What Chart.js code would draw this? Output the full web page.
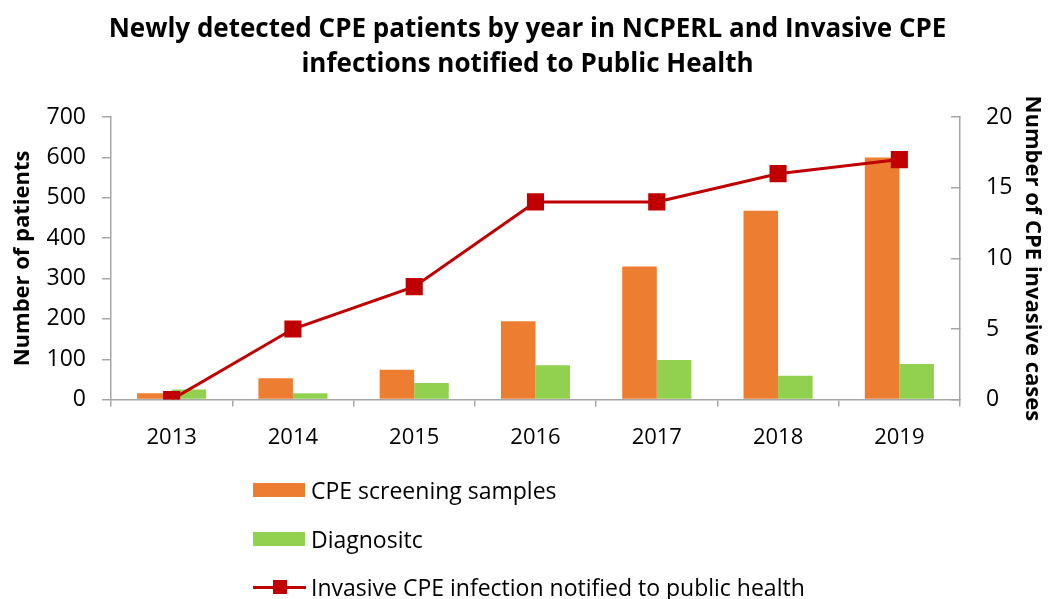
<!DOCTYPE html>
<html>
<head>
<meta charset="utf-8">
<script src="https://cdn.jsdelivr.net/npm/chart.js@4"></script>
<style>
  html, body { margin: 0; padding: 0; background: #fff; }
  #wrap { position: relative; width: 1050px; height: 599px; }
  #legend { position: absolute; left: 253px; top: 466px; font-family: "Open Sans", sans-serif; font-size: 23px; color: #000; }
  .item { display: flex; align-items: center; height: 48.5px; }
  .swatch { width: 52px; height: 14px; margin-right: 6px; }
  .lineSw { position: relative; width: 53px; height: 16px; margin-right: 5px; }
  .lineSw::before { content: ""; position: absolute; left: 0; right: 0; top: 6.5px; height: 3px; background: #c00000; }
  .lineSw::after { content: ""; position: absolute; left: 20px; top: 1px; width: 14px; height: 14px; background: #c00000; }
</style>
</head>
<body>
<div id="wrap">
  <canvas id="chart" width="1050" height="599"></canvas>
  <div id="legend"></div>
</div>
<script>
// Data
const years = ['2013', '2014', '2015', '2016', '2017', '2018', '2019'];
const screening = [16, 53, 74, 194, 330, 468, 600];
const diagnostic = [25, 16, 41, 85, 98, 59, 88];
const invasive = [0, 5, 8, 14, 14, 16, 17];

const ORANGE = '#ed7d31';
const GREEN = '#92d050';
const RED = '#c00000';
const AXIS = '#a6a6a6';
const FONT = '"Open Sans", sans-serif';

const ctx = document.getElementById('chart').getContext('2d');
const chart = new Chart(ctx, {
  type: 'bar',
  data: {
    labels: years,
    datasets: [
      {
        type: 'line',
        label: 'Invasive CPE infection notified to public health',
        data: invasive,
        yAxisID: 'y2',
        borderColor: RED,
        backgroundColor: RED,
        borderWidth: 3,
        pointStyle: 'rect',
        pointRadius: 10,
        pointHoverRadius: 10,
        tension: 0,
        order: 0
      },
      {
        label: 'CPE screening samples',
        data: screening,
        yAxisID: 'y',
        backgroundColor: ORANGE,
        barPercentage: 1,
        categoryPercentage: 0.57,
        order: 1
      },
      {
        label: 'Diagnositc',
        data: diagnostic,
        yAxisID: 'y',
        backgroundColor: GREEN,
        barPercentage: 1,
        categoryPercentage: 0.57,
        order: 1
      }
    ]
  },
  options: {
    responsive: false,
    animation: false,
    layout: { autoPadding: false, padding: { left: 10, right: 5, top: 0, bottom: 130 } },
    plugins: {
      legend: { display: false },
      tooltip: { enabled: false },
      title: {
        display: true,
        text: ['Newly detected CPE patients by year in NCPERL and Invasive CPE', 'infections notified to Public Health'],
        color: '#000',
        font: { family: FONT, size: 26, weight: 'bold', lineHeight: 1.35 },
        padding: { top: 12, bottom: 35 }
      }
    },
    scales: {
      x: {
        grid: { offset: true, drawOnChartArea: false, drawTicks: true, tickLength: 7, color: AXIS, lineWidth: 1.5 },
        border: { color: AXIS, width: 1.5 },
        ticks: { color: '#000', font: { family: FONT, size: 22 }, padding: 18 }
      },
      y: {
        position: 'left',
        min: 0,
        max: 700,
        afterFit: scale => { scale.width = 101; },
        ticks: { stepSize: 100, color: '#000', font: { family: FONT, size: 23 }, padding: 16 },
        grid: { drawOnChartArea: false, drawTicks: true, tickLength: 9, color: AXIS, lineWidth: 1.5 },
        border: { color: AXIS, width: 1.5 },
        title: { display: true, text: 'Number of patients', color: '#000', font: { family: FONT, size: 22, weight: 'bold' }, padding: 0 }
      },
      y2: {
        position: 'right',
        min: 0,
        max: 20,
        afterFit: scale => { scale.width = 85; },
        ticks: { stepSize: 5, color: '#000', font: { family: FONT, size: 23 }, padding: 35 },
        // negative length: the right-hand ticks point into the plot, as in the original
        grid: { drawOnChartArea: false, drawTicks: true, tickLength: -9, color: AXIS, lineWidth: 1.5 },
        border: { color: AXIS, width: 1.5 },
        title: { display: true, text: 'Number of CPE invasive cases', color: '#000', font: { family: FONT, size: 22, weight: 'bold' }, padding: 0 }
      }
    }
  }
});

// Legend as a vertical list under the chart, built from the datasets
const legendEl = document.getElementById('legend');
[1, 2, 0].forEach(i => {
  const ds = chart.data.datasets[i];
  const row = document.createElement('div');
  row.className = 'item';
  const sw = document.createElement('span');
  if (ds.type === 'line') {
    sw.className = 'lineSw';
  } else {
    sw.className = 'swatch';
    sw.style.background = ds.backgroundColor;
  }
  const txt = document.createElement('span');
  txt.textContent = ds.label;
  row.appendChild(sw);
  row.appendChild(txt);
  legendEl.appendChild(row);
});
</script>
</body>
</html>
